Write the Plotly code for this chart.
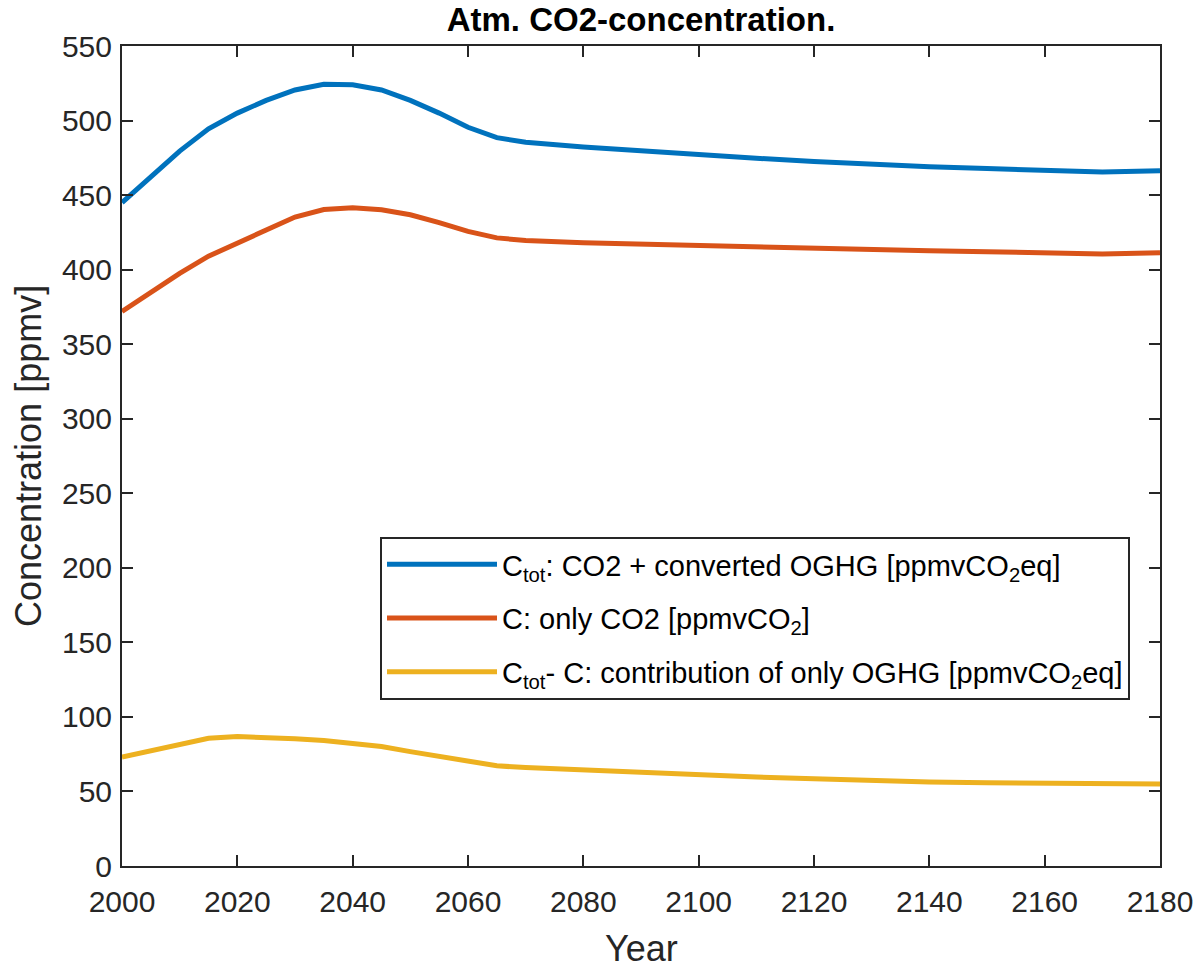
import plotly.graph_objects as go

# Simulation years (5-year steps to 2070, then 10-year steps)
years = [2000, 2005, 2010, 2015, 2020, 2025, 2030, 2035, 2040, 2045, 2050,
         2055, 2060, 2065, 2070, 2080, 2090, 2100, 2110, 2120, 2130, 2140,
         2150, 2160, 2170, 2180]

# Total concentration incl. converted other greenhouse gases [ppmv CO2eq]
c_tot = [445.0, 462.0, 479.5, 494.5, 505.0, 513.5, 520.5, 524.3, 524.0, 520.5,
         513.5, 505.0, 495.5, 488.5, 485.5, 482.3, 479.5, 477.0, 474.7, 472.5,
         470.5, 469.0, 467.8, 466.8, 465.5, 466.3]

# CO2 only [ppmv CO2]
c_co2 = [372.0, 384.5, 397.5, 409.0, 418.0, 427.0, 435.3, 440.3, 441.5, 440.2,
         436.8, 431.5, 425.7, 421.3, 419.5, 418.0, 417.0, 416.0, 415.0, 414.0,
         413.3, 412.6, 412.0, 411.4, 410.5, 411.3]

# Contribution of other greenhouse gases [ppmv CO2eq]
c_oghg = [73.0, 77.5, 82.0, 85.7, 86.8, 86.3, 85.3, 84.1, 82.4, 80.2,
          76.7, 73.4, 69.8, 67.2, 66.0, 64.3, 62.5, 61.0, 59.7, 58.5,
          57.2, 56.4, 55.8, 55.4, 55.0, 55.0]

x_ticks = [2000, 2020, 2040, 2060, 2080, 2100, 2120, 2140, 2160, 2180]
y_ticks = [0, 50, 100, 150, 200, 250, 300, 350, 400, 450, 500, 550]

names = [
    "C<sub>tot</sub>: CO2 + converted OGHG [ppmvCO<sub>2</sub>eq]",
    "C: only CO2 [ppmvCO<sub>2</sub>]",
    "C<sub>tot</sub>- C: contribution of only OGHG [ppmvCO<sub>2</sub>eq]",
]
colors = ["#0072BD", "#D95319", "#EDB120"]
series = [c_tot, c_co2, c_oghg]

FONT = "Liberation Sans, Arial, Helvetica, sans-serif"
AX = "#262626"

# plot-area geometry in pixels
L, R, T, B = 122, 1160, 46, 866
W, H = 1204, 968

fig = go.Figure()
for i, (name, col, vals) in enumerate(zip(names, colors, series)):
    fig.add_trace(go.Scatter(x=years, y=vals, mode="lines", name=name,
                             legendgroup=f"g{i}",
                             line=dict(color=col, width=5)))

axis_common = dict(
    showline=True, linecolor=AX, linewidth=2, mirror="ticks",
    ticks="inside", ticklen=11, tickwidth=2, tickcolor=AX,
    showgrid=False, zeroline=False,
    tickfont=dict(family=FONT, size=30, color=AX),
)

fig.update_layout(
    width=W, height=H,
    margin=dict(l=L, r=W - R, t=T, b=H - B),
    paper_bgcolor="white", plot_bgcolor="white",
    title=dict(text="<b>Atm. CO2-concentration.</b>", x=(L + R) / 2 / W,
               xanchor="center", y=1 - 19 / H, yanchor="middle", yref="container",
               font=dict(family=FONT, size=33, color="black")),
    xaxis=dict(range=[2000, 2180], tickvals=x_ticks, ticklabelstandoff=8,
               **axis_common),
    yaxis=dict(range=[0, 550], tickvals=y_ticks, ticklabelstandoff=2,
               **axis_common),
    legend=dict(x=(380 - L) / (R - L), y=(B - 537) / (B - T), xanchor="left", yanchor="top",
                bgcolor="white", bordercolor=AX, borderwidth=2,
                font=dict(family=FONT, size=29, color="black"),
                itemwidth=110, tracegroupgap=13),
    showlegend=True,
    annotations=[
        dict(text="Year", xref="paper", yref="paper",
             x=0.5, y=(B - 948) / (B - T), xanchor="center", yanchor="middle",
             showarrow=False, font=dict(family=FONT, size=36, color=AX)),
        dict(text="Concentration [ppmv]", xref="paper", yref="paper",
             x=(28 - L) / (R - L), y=0.5, xanchor="center", yanchor="middle",
             textangle=-90, showarrow=False,
             font=dict(family=FONT, size=36, color=AX)),
    ],
)

fig.write_html("out.html")
